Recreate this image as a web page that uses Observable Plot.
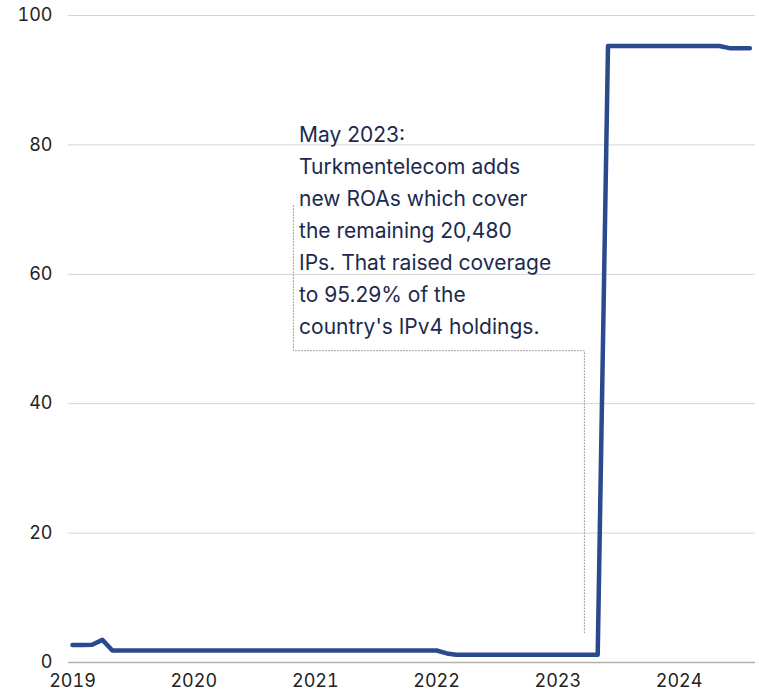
<!DOCTYPE html>
<html>
<head>
<meta charset="utf-8">
<script src="https://cdn.jsdelivr.net/npm/d3@7"></script>
<script src="https://cdn.jsdelivr.net/npm/@observablehq/plot@0.6"></script>
<style>
  html, body { margin: 0; padding: 0; background: #fff; }
  #chart svg { display: block; }
</style>
</head>
<body>
<div id="chart"></div>
<script>
// Monthly share (%) of IPv4 space covered by ROAs, Jan 2019 – Aug 2024
const months = [
  "2019-01","2019-02","2019-03","2019-04","2019-05","2019-06","2019-07","2019-08","2019-09","2019-10","2019-11","2019-12",
  "2020-01","2020-02","2020-03","2020-04","2020-05","2020-06","2020-07","2020-08","2020-09","2020-10","2020-11","2020-12",
  "2021-01","2021-02","2021-03","2021-04","2021-05","2021-06","2021-07","2021-08","2021-09","2021-10","2021-11","2021-12",
  "2022-01","2022-02","2022-03","2022-04","2022-05","2022-06","2022-07","2022-08","2022-09","2022-10","2022-11","2022-12",
  "2023-01","2023-02","2023-03","2023-04","2023-05","2023-06","2023-07","2023-08","2023-09","2023-10","2023-11","2023-12",
  "2024-01","2024-02","2024-03","2024-04","2024-05","2024-06","2024-07","2024-08"
];
const coverage = [
  2.7, 2.7, 2.75, 3.5, 1.85, 1.85, 1.85, 1.85, 1.85, 1.85, 1.85, 1.85,
  1.85, 1.85, 1.85, 1.85, 1.85, 1.85, 1.85, 1.85, 1.85, 1.85, 1.85, 1.85,
  1.85, 1.85, 1.85, 1.85, 1.85, 1.85, 1.85, 1.85, 1.85, 1.85, 1.85, 1.85,
  1.85, 1.4, 1.2, 1.2, 1.2, 1.2, 1.2, 1.2, 1.2, 1.2, 1.2, 1.2,
  1.2, 1.2, 1.2, 1.2, 1.2, 95.29, 95.29, 95.29, 95.29, 95.29, 95.29, 95.29,
  95.29, 95.29, 95.29, 95.29, 95.29, 94.95, 94.95, 94.95
];
const yTicks = [0, 20, 40, 60, 80, 100];
const xTickYears = ["2019-01-01","2020-01-01","2021-01-01","2022-01-01","2023-01-01","2024-01-01"];
const xTickLabels = ["2019","2020","2021","2022","2023","2024"];

const annotationText = "May 2023:\nTurkmentelecom adds\nnew ROAs which cover\nthe remaining 20,480\nIPs. That raised coverage\nto 95.29% of the\ncountry's IPv4 holdings.";
const annotationAnchor = { date: "2020-11-13", value: 83.9 };
const bracketDates = ["2020-10-27", "2020-10-27", "2023-03-22", "2023-03-22"];
const bracketValues = [70.6, 48.2, 48.2, 4.6];

const data = months.map((m, i) => ({ date: new Date(m + "-01"), value: coverage[i] }));
const bracket = bracketDates.map((d, i) => ({ date: new Date(d), value: bracketValues[i] }));

const font = "Inter, 'Noto Sans', sans-serif";

const chart = Plot.plot({
  width: 759,
  height: 693,
  marginLeft: 68,
  marginRight: 4,
  marginTop: 15,
  marginBottom: 31,
  style: { fontFamily: font, fontSize: "18px", color: "#222", background: "#fff" },
  x: { type: "utc", domain: [new Date("2019-01-01"), new Date("2024-08-15")], range: [72, 754] },
  y: { domain: [0, 100] },
  marks: [
    Plot.gridY(yTicks.filter(d => d > 0), { stroke: "#d4d4d4", strokeOpacity: 1, strokeWidth: 1 }),
    Plot.ruleY([0], { stroke: "#b0b0b0", strokeWidth: 1.5 }),
    Plot.axisY(yTicks, { tickSize: 0, tickPadding: 16, fontSize: 18, fill: "#222", label: null }),
    Plot.axisX(xTickYears.map(d => new Date(d)), {
      tickSize: 0, tickPadding: 12, fontSize: 18, fill: "#222", label: null,
      tickFormat: (d, i) => xTickLabels[i]
    }),
    Plot.line(bracket, { x: "date", y: "value", stroke: "#999", strokeWidth: 1, strokeDasharray: "1,2", curve: "linear" }),
    Plot.line(data, { x: "date", y: "value", stroke: "#2b4a8e", strokeWidth: 4.5, strokeLinejoin: "round", strokeLinecap: "round" }),
    Plot.text([annotationAnchor], {
      x: d => new Date(d.date), y: "value", text: () => annotationText,
      textAnchor: "start", lineAnchor: "top", lineHeight: 1.524,
      fontSize: 21, fill: "#1c2a4f", fontFamily: font
    })
  ]
});
document.getElementById("chart").appendChild(chart);
</script>
</body>
</html>
